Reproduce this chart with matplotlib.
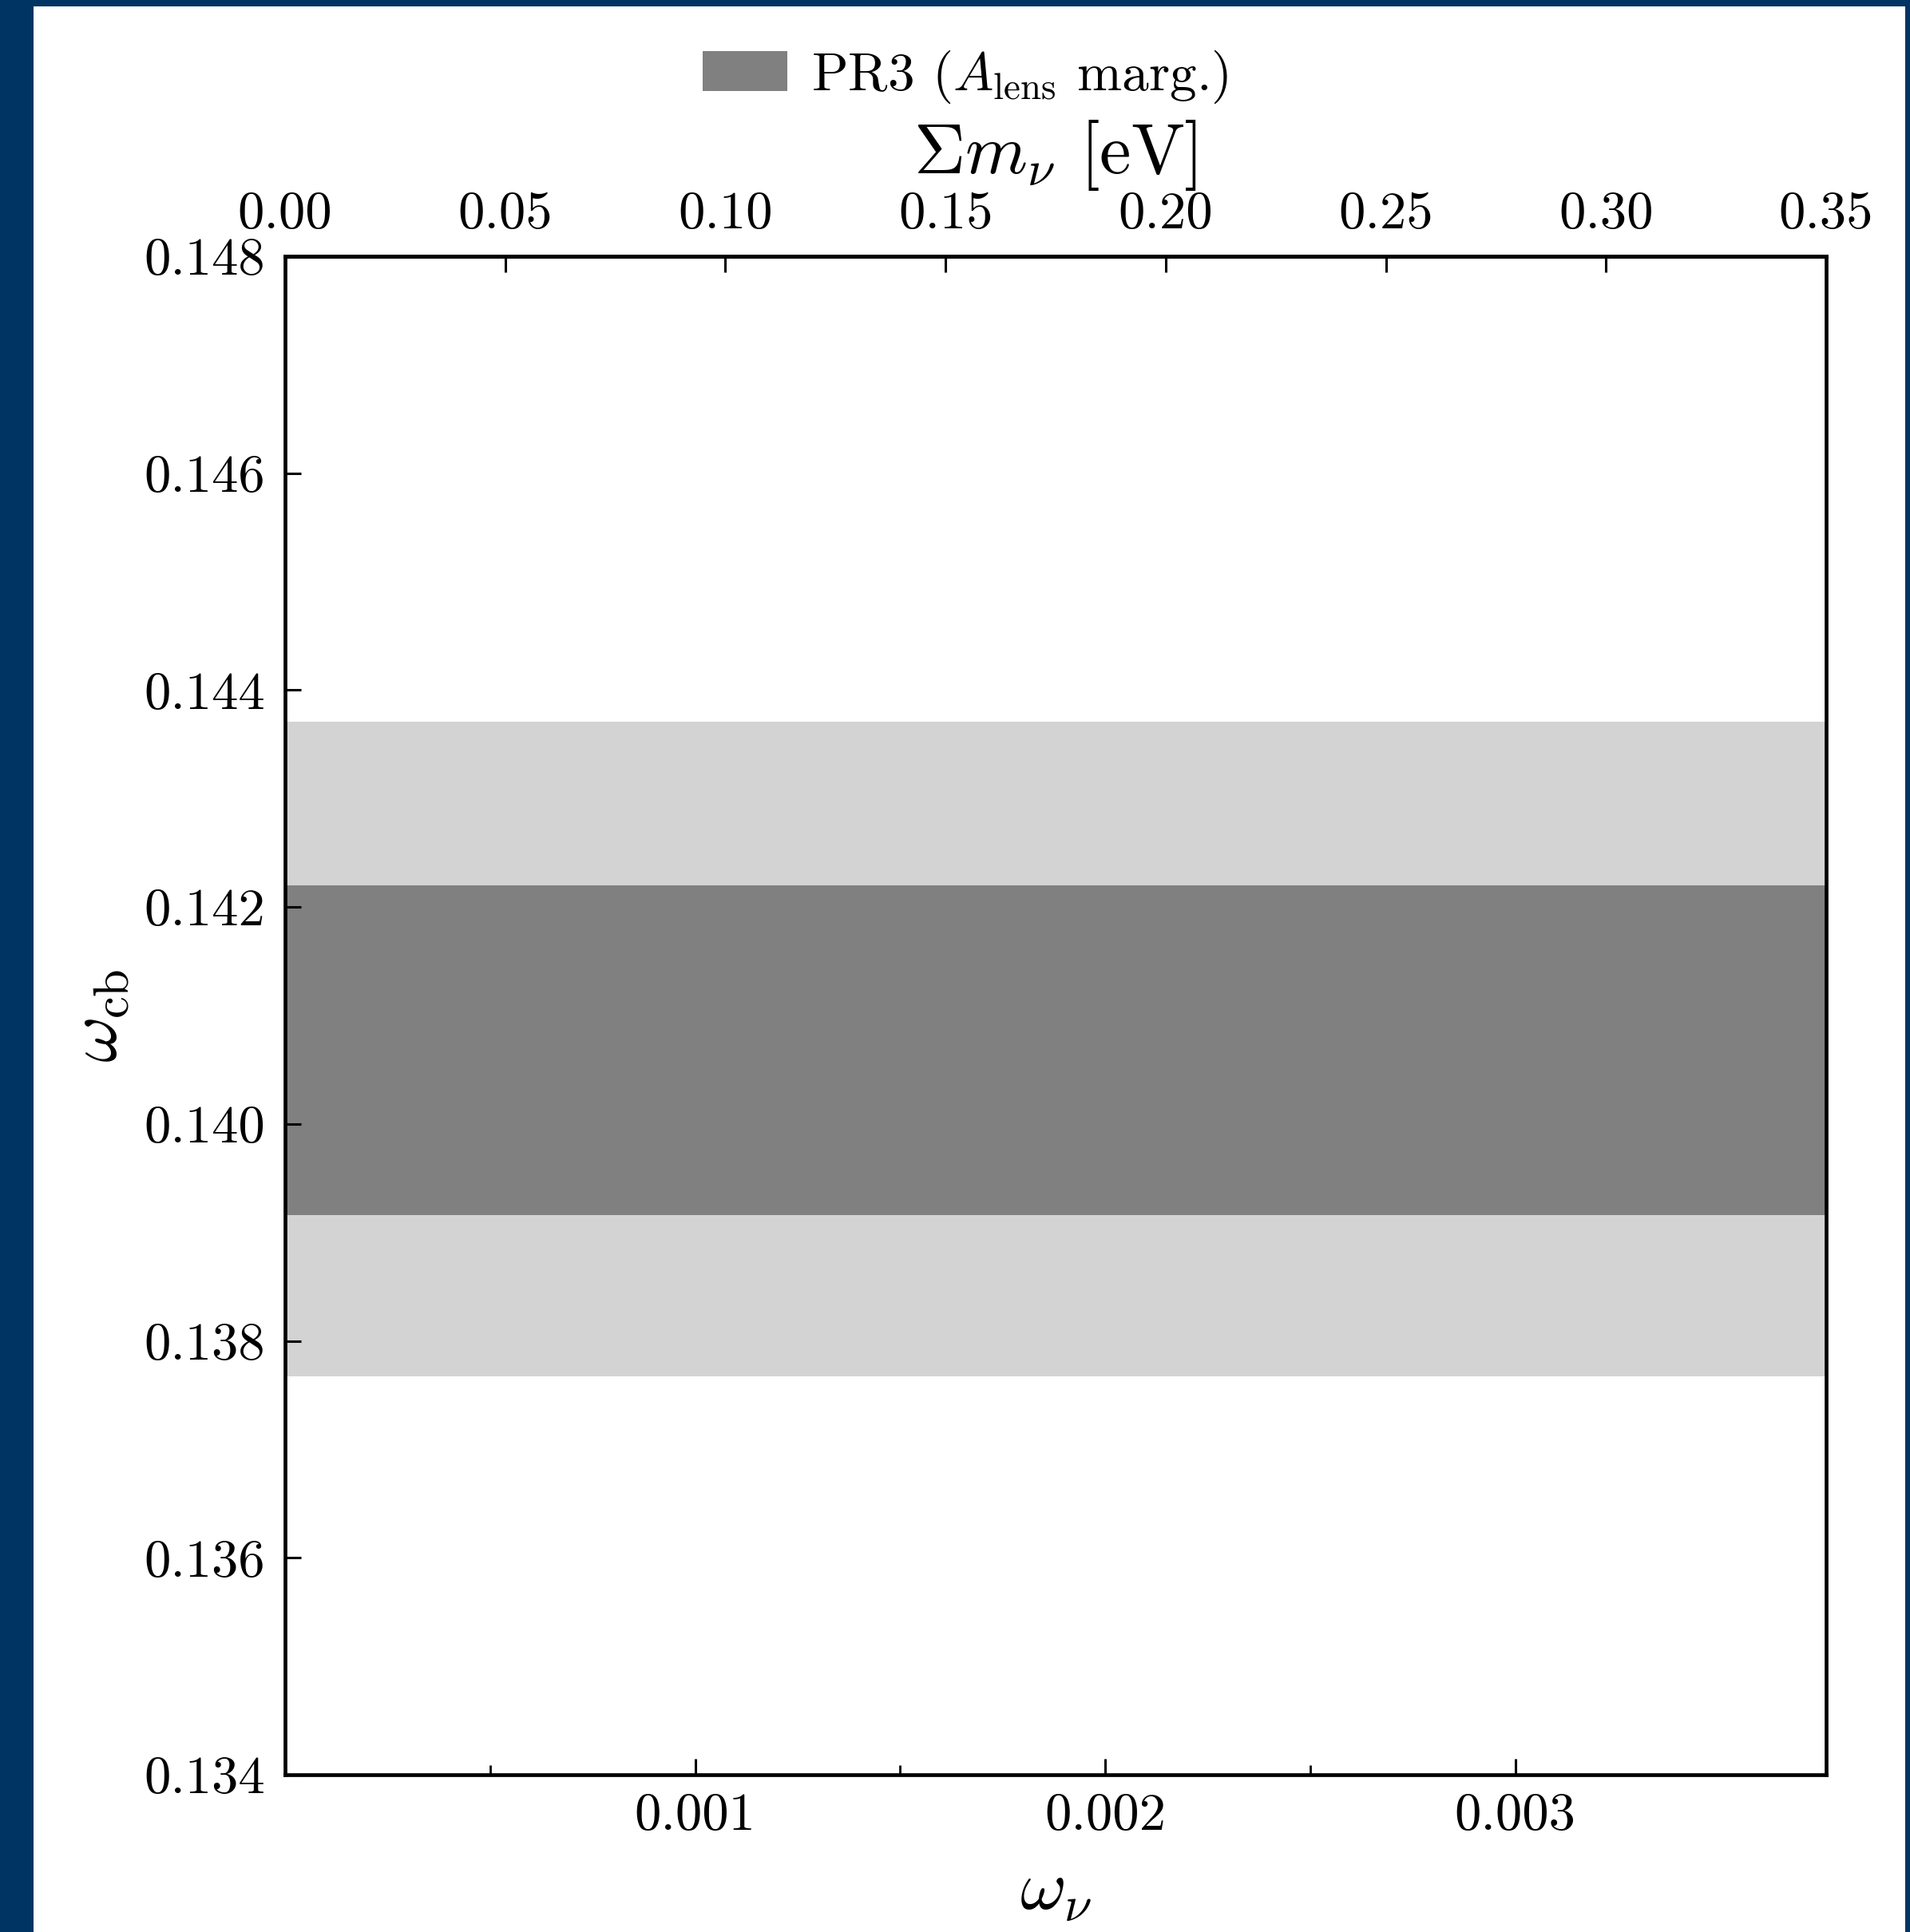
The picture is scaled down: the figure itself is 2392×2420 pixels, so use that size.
import numpy as np
import matplotlib
matplotlib.use('Agg')
import matplotlib.pyplot as plt
from matplotlib.patches import Rectangle
from matplotlib.ticker import FixedLocator, FormatStrFormatter

# PR3 (A_lens marginalised) constraint on omega_cb, flat in omega_nu
band_1sigma = [0.13916, 0.14220]
band_2sigma = [0.13767, 0.14371]
mnu_max = 0.35            # eV, top axis range
ev_per_omega = 93.14      # sum m_nu = 93.14 eV * omega_nu
ylim = [0.134, 0.148]
yticks = [0.134, 0.136, 0.138, 0.140, 0.142, 0.144, 0.146, 0.148]
xticks_bottom = [0.001, 0.002, 0.003]
xticks_bottom_minor = [0.0005, 0.0015, 0.0025]
xticks_top = [0.00, 0.05, 0.10, 0.15, 0.20, 0.25, 0.30, 0.35]
legend_label = r'PR3 ($A_{\mathrm{lens}}$ marg.)'

plt.rcParams['font.family'] = 'serif'
plt.rcParams['font.serif'] = ['cmr10']
plt.rcParams['mathtext.fontset'] = 'cm'
plt.rcParams['axes.formatter.use_mathtext'] = True
plt.rcParams['axes.unicode_minus'] = False

W, H, dpi = 2392, 2420, 200
fig = plt.figure(figsize=(W / dpi, H / dpi), dpi=dpi)
fig.patch.set_facecolor('#003462')
# white page inside the blue frame (drawn under the axes)
fig.patches.append(Rectangle((42 / W, 0), (2386 - 42) / W, 1 - 8 / H,
                             transform=fig.transFigure, facecolor='white',
                             edgecolor='none', zorder=-10))

ax = fig.add_axes([357 / W, 1 - 2223 / H, (2287 - 357) / W, (2223 - 321) / H])

ax.axhspan(band_2sigma[0], band_2sigma[1], color='lightgray', lw=0)
ax.axhspan(band_1sigma[0], band_1sigma[1], color='gray', lw=0, label=legend_label)

ax.set_xlim(0, mnu_max / ev_per_omega)
ax.set_ylim(ylim)

ax.yaxis.set_major_locator(FixedLocator(yticks))
ax.yaxis.set_major_formatter(FormatStrFormatter('%.3f'))
ax.xaxis.set_major_locator(FixedLocator(xticks_bottom))
ax.xaxis.set_minor_locator(FixedLocator(xticks_bottom_minor))
ax.xaxis.set_major_formatter(FormatStrFormatter('%.3f'))

ax.tick_params(axis='both', which='major', direction='in', length=7.2,
               width=1.1, labelsize=24)
ax.tick_params(axis='x', which='minor', direction='in', length=4.3, width=1.0)
ax.tick_params(axis='x', which='major', pad=8)
ax.tick_params(axis='y', which='major', pad=9)
ax.tick_params(top=False, right=False, which='both')
for sp in ax.spines.values():
    sp.set_linewidth(1.7)

ax.set_xlabel(r'$\omega_\nu$', fontsize=32, labelpad=9)
ax.set_ylabel(r'$\omega_{\rm cb}$', fontsize=32, labelpad=6)

secax = ax.secondary_xaxis('top', functions=(lambda w: w * ev_per_omega,
                                              lambda m: m / ev_per_omega))
secax.xaxis.set_major_locator(FixedLocator(xticks_top))
secax.xaxis.set_major_formatter(FormatStrFormatter('%.2f'))
secax.tick_params(axis='x', which='major', direction='in', length=7.2,
                  width=1.1, labelsize=24, pad=8)
secax.spines['top'].set_linewidth(1.7)
secax.set_xlabel(r'$\Sigma m_\nu$ [eV]', fontsize=32, labelpad=8)

fig.legend(loc='center', bbox_to_anchor=(0.5054, 1 - 96 / H), frameon=False,
           fontsize=24.2, handlelength=1.58, handleheight=0.78,
           handletextpad=0.45)

fig.savefig('out.png', dpi=dpi, facecolor=fig.get_facecolor())
